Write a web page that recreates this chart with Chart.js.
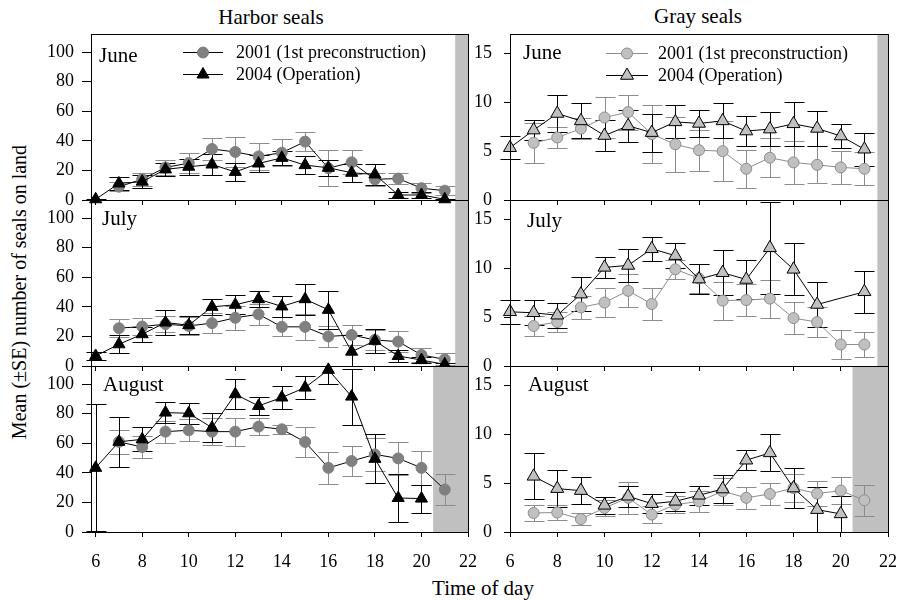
<!DOCTYPE html>
<html>
<head>
<meta charset="utf-8">
<script src="https://cdn.jsdelivr.net/npm/chart.js@4.4.1/dist/chart.umd.min.js"></script>
<style>
  body { margin: 0; background: #fff; width: 898px; height: 600px; position: relative; overflow: hidden;
         font-family: 'Liberation Serif', 'Times New Roman', serif; }
  canvas { position: absolute; }
  .t { position: absolute; font-size: 21px; line-height: 21px; white-space: nowrap; color: #000; }
</style>
</head>
<body>
<div class="t" style="left:271px; top:7px; transform:translateX(-50%)">Harbor seals</div>
<div class="t" style="left:698px; top:6px; transform:translateX(-50%)">Gray seals</div>
<div class="t" style="left:483px; top:578px; transform:translateX(-50%)">Time of day</div>
<div class="t" style="left:19px; top:292px; font-size:20px; transform:translate(-50%,-50%) rotate(-90deg)">Mean (±SE) number of seals on land</div>

<script>
// hours of the day (x values)
const hours = [6, 7, 8, 9, 10, 11, 12, 13, 14, 15, 16, 17, 18, 19, 20, 21];
const xTicks = [6, 8, 10, 12, 14, 16, 18, 20, 22];
const harborTicks = [0, 20, 40, 60, 80, 100];
const grayTicks = [0, 5, 10, 15];
const months = ['June', 'July', 'August'];
const legendLabels = ['2001 (1st preconstruction)', '2004 (Operation)'];

// Harbor seals, June
const harborJun01 = [null, 9, 14, 22, 25, 34.5, 32.5, 29.5, 32, 39.5, 21.5, 25.5, 14, 14.5, 8, 6.3];
const harborJun01se = [null, 3, 4.5, 5, 7, 7.5, 10, 9, 9, 6.5, 12, 8, 4.5, 4, 3.5, 3];
const harborJun04 = [0.5, 11.2, 12.4, 20.7, 22.5, 24, 19, 24.7, 28.5, 23.6, 21.8, 18.4, 17.3, 3.4, 3.4, 0.5];
const harborJun04se = [0.5, 4.5, 4.5, 4.5, 5.5, 7, 6, 5.5, 4.5, 6, 5.5, 6, 7, 2, 2, 0.5];
// Harbor seals, July
const harborJul01 = [null, 25.6, 26.7, 28.3, 27.1, 29, 32.6, 35, 26.5, 26.5, 20, 21, 17.6, 16.5, 7.5, 4.5];
const harborJul01se = [null, 6, 6, 5.5, 6, 7, 8, 7, 6.5, 9, 7, 7, 6.5, 7, 5, 4];
const harborJul04 = [6.8, 14.7, 21.5, 29.4, 27.6, 40, 41.4, 45.2, 40.3, 45.2, 38, 9.7, 17, 6.8, 4, 1.1];
const harborJul04se = [3, 6, 5, 8.5, 6, 5.5, 6.5, 5.5, 7, 10.5, 13, 11, 8, 4, 2, 1];
// Harbor seals, August
const harborAug01 = [null, 61, 57.5, 67.9, 68.8, 67.9, 67.9, 71.3, 69.5, 60.9, 43.4, 48, 52.5, 49.8, 43.4, 28.7];
const harborAug01se = [null, 8, 7.5, 7.5, 7.5, 9, 9.5, 6, 3, 10, 11, 10, 11, 11, 11.5, 10.5];
const harborAug04 = [43.4, 61, 62.7, 80.8, 80.3, 70.6, 93.2, 85.3, 91, 97.7, 109.7, 91.6, 49.5, 23, 22.6, null];
const harborAug04se = [43, 17, 8, 7, 7, 10, 10, 6, 8, 7.5, 9.5, 19, 16.5, 16.5, 9.5, null];

// Gray seals, June
const grayJun01 = [null, 5.86, 6.4, 7.3, 8.45, 9.0, 6.75, 5.7, 5.1, 5.0, 3.2, 4.33, 3.85, 3.6, 3.34, 3.2];
const grayJun01se = [null, 2.05, 1.1, 1.1, 2.1, 1.8, 3, 2.8, 2.1, 3.1, 1.95, 2.0, 2.2, 1.9, 1.7, 1.7];
const grayJun04 = [5.35, 7.16, 8.86, 8.1, 6.6, 7.6, 6.9, 8.0, 7.84, 8.1, 7.06, 7.26, 7.8, 7.33, 6.55, 5.2];
const grayJun04se = [1.2, 1.05, 1.9, 1.8, 1.6, 1.65, 1.95, 1.7, 1.4, 1.8, 1.5, 1.75, 2.25, 1.8, 1.2, 1.7];
// Gray seals, July
const grayJul01 = [null, 4.1, 4.5, 6.0, 6.5, 7.7, 6.35, 9.9, 8.97, 6.7, 6.75, 6.9, 4.9, 4.5, 2.2, 2.2];
const grayJul01se = [null, 1.0, 1.05, 1.2, 1.45, 1.7, 1.65, 1.0, 1.5, 1.95, 1.65, 1.95, 1.65, 1.55, 1.5, 1.3];
const grayJul04 = [5.55, 5.45, 5.2, 7.36, 10.1, 10.3, 12.0, 11.3, 8.9, 9.55, 8.86, 12.1, 9.9, 6.3, null, 7.6];
const grayJul04se = [1.2, 1.3, 1.3, 1.75, 1.1, 1.65, 1.25, 1.3, 1.5, 2.3, 2.0, 4.7, 2.65, 2.3, null, 2.15];
// Gray seals, August
const grayAug01 = [null, 1.95, 2.0, 1.33, 2.46, 3.5, 1.78, 2.8, 3.14, 4.17, 3.5, 3.9, 4.5, 3.93, 4.24, 3.25];
const grayAug01se = [null, 0.8, 0.8, 0.65, 0.8, 1.65, 0.85, 0.9, 1.1, 1.4, 1.15, 1.15, 1.4, 1.3, 1.4, 1.6];
const grayAug04 = [null, 5.7, 4.44, 4.24, 2.73, 3.66, 2.9, 3.14, 3.76, 4.4, 7.35, 8.1, 4.5, 2.29, 1.85, null];
const grayAug04se = [null, 2.35, 1.9, 1.35, 0.9, 1.05, 1.0, 0.95, 1.0, 1.45, 1.0, 1.9, 2.05, 2.3, 1.85, null];

// start of the grey (night) band, per month
const harborShade = [21.45, 21.45, 20.5];
const grayShade = [21.55, 21.55, 20.5];

const FONT = "'Liberation Serif', 'Times New Roman', serif";
Chart.defaults.font.family = FONT;
Chart.defaults.color = '#000';

const styles = {
  harbor01: { pointStyle: 'circle', pointRadius: 5.5, pointBackgroundColor: '#808080', pointBorderColor: '#808080', borderColor: '#000', errColor: '#8c8c8c' },
  harbor04: { pointStyle: 'triangle', pointRadius: 7, pointBackgroundColor: '#000', pointBorderColor: '#000', borderColor: '#000', errColor: '#000' },
  gray01: { pointStyle: 'circle', pointRadius: 5.5, pointBackgroundColor: '#c0c0c0', pointBorderColor: '#8c8c8c', borderColor: '#8c8c8c', errColor: '#8c8c8c' },
  gray04: { pointStyle: 'triangle', pointRadius: 7.5, pointBackgroundColor: '#c0c0c0', pointBorderColor: '#000', borderColor: '#000', errColor: '#000' }
};

function makeDataset(label, mean, se, style, order) {
  const data = [], err = [];
  hours.forEach((h, i) => {
    if (mean[i] !== null) { data.push({ x: h, y: mean[i] }); err.push(se[i]); }
  });
  return Object.assign({
    label: label, data: data, se: err, order: order,
    showLine: true, borderWidth: 1, pointBorderWidth: 1, tension: 0, clip: false
  }, style);
}

function drawMarker(ctx, ds, x, y) {
  const r = ds.pointRadius;
  ctx.fillStyle = ds.pointBackgroundColor;
  ctx.strokeStyle = ds.pointBorderColor;
  ctx.lineWidth = 1;
  ctx.beginPath();
  if (ds.pointStyle === 'circle') {
    ctx.arc(x, y, r, 0, Math.PI * 2);
  } else {
    for (let k = 0; k < 3; k++) {
      const ang = -Math.PI / 2 + k * 2 * Math.PI / 3;
      const px = x + Math.cos(ang) * r, py = y + Math.sin(ang) * r;
      if (k === 0) ctx.moveTo(px, py); else ctx.lineTo(px, py);
    }
    ctx.closePath();
  }
  ctx.fill();
  ctx.stroke();
}

function panelPlugin(p) {
  return {
    id: 'panel' + p.col + p.row,
    beforeDatasetsDraw(chart) {
      const { ctx, chartArea: a, scales: { x, y } } = chart;
      ctx.save();
      // night band
      const sx = x.getPixelForValue(p.shade);
      ctx.fillStyle = '#c0c0c0';
      ctx.fillRect(sx, a.top, a.right - sx, a.bottom - a.top);
      // error bars
      ctx.beginPath();
      ctx.rect(0, a.top, chart.width, a.bottom - a.top);
      ctx.clip();
      const cap = 10;
      [1, 0].forEach(di => {
        const ds = chart.data.datasets[di];
        const meta = chart.getDatasetMeta(di);
        ctx.strokeStyle = ds.errColor;
        ctx.lineWidth = 1;
        meta.data.forEach((pt, i) => {
          const v = ds.data[i].y, e = ds.se[i];
          const px = Math.round(pt.x) + 0.5;
          const top = Math.round(y.getPixelForValue(v + e)) + 0.5;
          const bot = Math.round(y.getPixelForValue(v - e)) + 0.5;
          ctx.beginPath();
          ctx.moveTo(px, top); ctx.lineTo(px, bot);
          ctx.moveTo(px - cap, top); ctx.lineTo(px + cap, top);
          ctx.moveTo(px - cap, bot); ctx.lineTo(px + cap, bot);
          ctx.stroke();
        });
      });
      ctx.restore();
    },
    afterDatasetsDraw(chart) {
      const { ctx, chartArea: a } = chart;
      ctx.save();
      ctx.strokeStyle = '#000';
      ctx.lineWidth = 1;
      ctx.strokeRect(Math.round(a.left) + 0.5, Math.round(a.top) + 0.5,
        Math.round(a.right - a.left), Math.round(a.bottom - a.top));
      // month label
      ctx.fillStyle = '#000';
      ctx.font = '21px ' + FONT;
      ctx.textBaseline = 'alphabetic';
      ctx.fillText(p.month, a.left + p.mx, a.top + p.my);
      // legend, top row only
      if (p.legend) {
        const L = p.legend;
        ctx.font = '18px ' + FONT;
        ctx.textBaseline = 'middle';
        [0, 1].forEach(k => {
          const ds = chart.data.datasets[k === 0 ? 1 : 0];
          const yy = Math.round(a.top + L.y + k * 22) + 0.5;
          ctx.strokeStyle = ds.borderColor;
          ctx.beginPath();
          ctx.moveTo(a.left + L.x0, yy); ctx.lineTo(a.left + L.x1, yy);
          ctx.stroke();
          drawMarker(ctx, ds, a.left + L.m, yy);
          ctx.fillStyle = '#000';
          ctx.fillText(legendLabels[k], a.left + L.t, yy + 1);
        });
      }
      ctx.restore();
    }
  };
}

const PAD = 26; // room around each plot so axis label paddings never push the plot area

function panel(p) {
  const c = document.createElement('canvas');
  const left = p.col === 0 ? 0 : 440;
  const plotLeft = p.col === 0 ? 91 : 510;
  const plotRight = p.col === 0 ? 468 : 888;
  const plotTop = [34, 200, 366][p.row];
  const bottomRow = p.row === 2;
  const xH = bottomRow ? 50 : PAD;
  c.width = plotRight + PAD - left;
  c.height = PAD + 166 + xH;
  c.style.left = left + 'px';
  c.style.top = (plotTop - PAD) + 'px';
  document.body.appendChild(c);

  const yTicks = p.col === 0 ? harborTicks : grayTicks;
  new Chart(c, {
    type: 'line',
    data: {
      datasets: [
        makeDataset(legendLabels[1], p.m04, p.s04, p.col === 0 ? styles.harbor04 : styles.gray04, 1),
        makeDataset(legendLabels[0], p.m01, p.s01, p.col === 0 ? styles.harbor01 : styles.gray01, 2)
      ]
    },
    options: {
      responsive: false,
      animation: false,
      events: [],
      layout: { padding: { top: PAD, right: PAD, left: 0, bottom: 0 } },
      plugins: { legend: { display: false }, tooltip: { enabled: false } },
      scales: {
        x: {
          type: 'linear',
          min: p.col === 0 ? 5.8 : 6,
          max: 22,
          afterBuildTicks: s => { s.ticks = xTicks.map(v => ({ value: v })); },
          afterFit: s => { s.height = xH; },
          grid: { drawOnChartArea: false, drawTicks: true, tickLength: 5, color: '#000' },
          border: { display: false },
          ticks: { display: bottomRow, font: { size: 18 }, color: '#000', padding: 14, maxRotation: 0, autoSkip: false }
        },
        y: {
          min: 0,
          max: p.col === 0 ? 112.3 : 17,
          afterBuildTicks: s => { s.ticks = yTicks.map(v => ({ value: v })); },
          afterFit: s => { s.width = plotLeft - left; },
          grid: { drawOnChartArea: false, drawTicks: true, tickLength: p.col === 0 ? 9 : 6, color: '#000' },
          border: { display: false },
          ticks: { font: { size: 18 }, color: '#000', padding: p.col === 0 ? 8 : 12 }
        }
      }
    },
    plugins: [panelPlugin(p)]
  });
}

const harborLegend = { x0: 92, x1: 132, m: 112, t: 145, y: 18 };
const grayLegend = { x0: 96, x1: 138, m: 117, t: 148, y: 19 };

panel({ col: 0, row: 0, month: months[0], mx: 8, my: 28, shade: harborShade[0], legend: harborLegend,
  m01: harborJun01, s01: harborJun01se, m04: harborJun04, s04: harborJun04se });
panel({ col: 0, row: 1, month: months[1], mx: 11, my: 25, shade: harborShade[1],
  m01: harborJul01, s01: harborJul01se, m04: harborJul04, s04: harborJul04se });
panel({ col: 0, row: 2, month: months[2], mx: 12, my: 25, shade: harborShade[2],
  m01: harborAug01, s01: harborAug01se, m04: harborAug04, s04: harborAug04se });
panel({ col: 1, row: 0, month: months[0], mx: 13, my: 25, shade: grayShade[0], legend: grayLegend,
  m01: grayJun01, s01: grayJun01se, m04: grayJun04, s04: grayJun04se });
panel({ col: 1, row: 1, month: months[1], mx: 17, my: 27, shade: grayShade[1],
  m01: grayJul01, s01: grayJul01se, m04: grayJul04, s04: grayJul04se });
panel({ col: 1, row: 2, month: months[2], mx: 18, my: 25, shade: grayShade[2],
  m01: grayAug01, s01: grayAug01se, m04: grayAug04, s04: grayAug04se });
</script>
</body>
</html>
